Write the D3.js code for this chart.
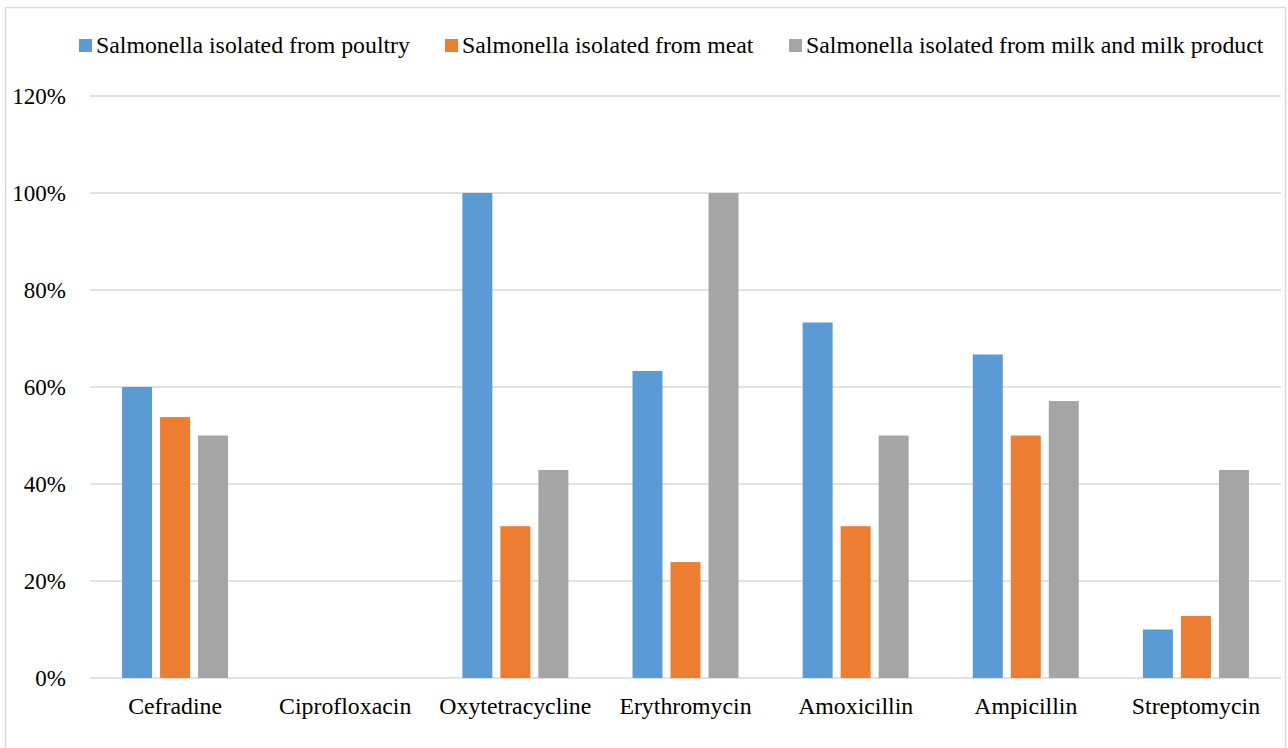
<!DOCTYPE html>
<html>
<head>
<meta charset="utf-8">
<script src="https://cdn.jsdelivr.net/npm/d3@7"></script>
<style>
  html, body { margin: 0; padding: 0; background: #fff; }
  svg { display: block; font-family: "Liberation Serif", "Times New Roman", serif; }
</style>
</head>
<body>
<svg id="chart" width="1288" height="748"></svg>
<script>
// Antibiotic resistance of Salmonella isolates by source (%)
const antibiotics = ["Cefradine", "Ciprofloxacin", "Oxytetracycline", "Erythromycin", "Amoxicillin", "Ampicillin", "Streptomycin"];
const seriesNames = ["Salmonella isolated from poultry", "Salmonella isolated from meat", "Salmonella isolated from milk and milk product"];
const poultry = [60, 0, 100, 63.3, 73.3, 66.7, 10];
const meat = [53.8, 0, 31.3, 23.9, 31.3, 50, 12.8];
const milk = [50, 0, 42.9, 100, 50, 57.1, 42.9];
const yTicks = [0, 20, 40, 60, 80, 100, 120];
const colors = ["#5B9BD5", "#ED7D31", "#A5A5A5"];

const seriesValues = [poultry, meat, milk];
const FONT = "'Liberation Serif', 'Times New Roman', serif";

const svg = d3.select("#chart");
const plot = { left: 90, right: 1281, top: 96, bottom: 678 };

// Chart frame
svg.append("rect")
  .attr("x", 5.5).attr("y", 7.5)
  .attr("width", 1280).attr("height", 760)
  .attr("fill", "#fff").attr("stroke", "#D9D9D9").attr("stroke-width", 1.5);

const x0 = d3.scaleBand().domain(antibiotics).range([plot.left, plot.right]).padding(0);
const groupW = x0.bandwidth() * 0.623;
const groupOff = (x0.bandwidth() - groupW) / 2;
const x1 = d3.scaleBand().domain(d3.range(3)).range([groupOff, groupOff + groupW]).paddingInner(0.211).paddingOuter(0);
const y = d3.scaleLinear().domain([0, 120]).range([plot.bottom, plot.top]);

// Horizontal gridlines
svg.append("g").selectAll("line").data(yTicks).join("line")
  .attr("x1", plot.left).attr("x2", plot.right)
  .attr("y1", d => y(d)).attr("y2", d => y(d))
  .attr("stroke", "#D9D9D9").attr("stroke-width", 1.5);

// Y axis labels
const yAxis = d3.axisLeft(y).tickValues(yTicks).tickFormat(d => d + "%").tickSize(0).tickPadding(0);
const gy = svg.append("g").attr("transform", "translate(66,0)").call(yAxis)
  .attr("font-family", FONT);
gy.select(".domain").remove();
gy.selectAll("text").attr("font-size", 23).attr("fill", "#000");

// Bars
const groups = svg.append("g").selectAll("g").data(antibiotics).join("g")
  .attr("transform", d => `translate(${x0(d)},0)`);
groups.selectAll("rect")
  .data((d, i) => seriesValues.map((vals, s) => ({ s, v: vals[i] })))
  .join("rect")
  .filter(d => d.v > 0)
  .attr("x", d => x1(d.s))
  .attr("width", x1.bandwidth())
  .attr("y", d => y(d.v))
  .attr("height", d => y(0) - y(d.v))
  .attr("fill", d => colors[d.s]);

// X axis labels
const xAxis = d3.axisBottom(x0).tickSize(0).tickPadding(0);
const gx = svg.append("g").attr("transform", `translate(0,${plot.bottom})`).call(xAxis)
  .attr("font-family", FONT);
gx.select(".domain").remove();
gx.selectAll("text").attr("font-size", 23.8).attr("fill", "#000")
  .attr("dy", null).attr("y", 36);

// Legend
const legendX = [79, 445, 789];
const legend = svg.append("g").attr("font-family", FONT)
  .selectAll("g").data(seriesNames).join("g")
  .attr("transform", (d, i) => `translate(${legendX[i]},39)`);
legend.append("rect").attr("width", 13).attr("height", 13).attr("fill", (d, i) => colors[i]);
legend.append("text").attr("x", 17).attr("y", 14)
  .attr("font-size", 23.8).attr("fill", "#000")
  .text(d => d);
</script>
</body>
</html>
